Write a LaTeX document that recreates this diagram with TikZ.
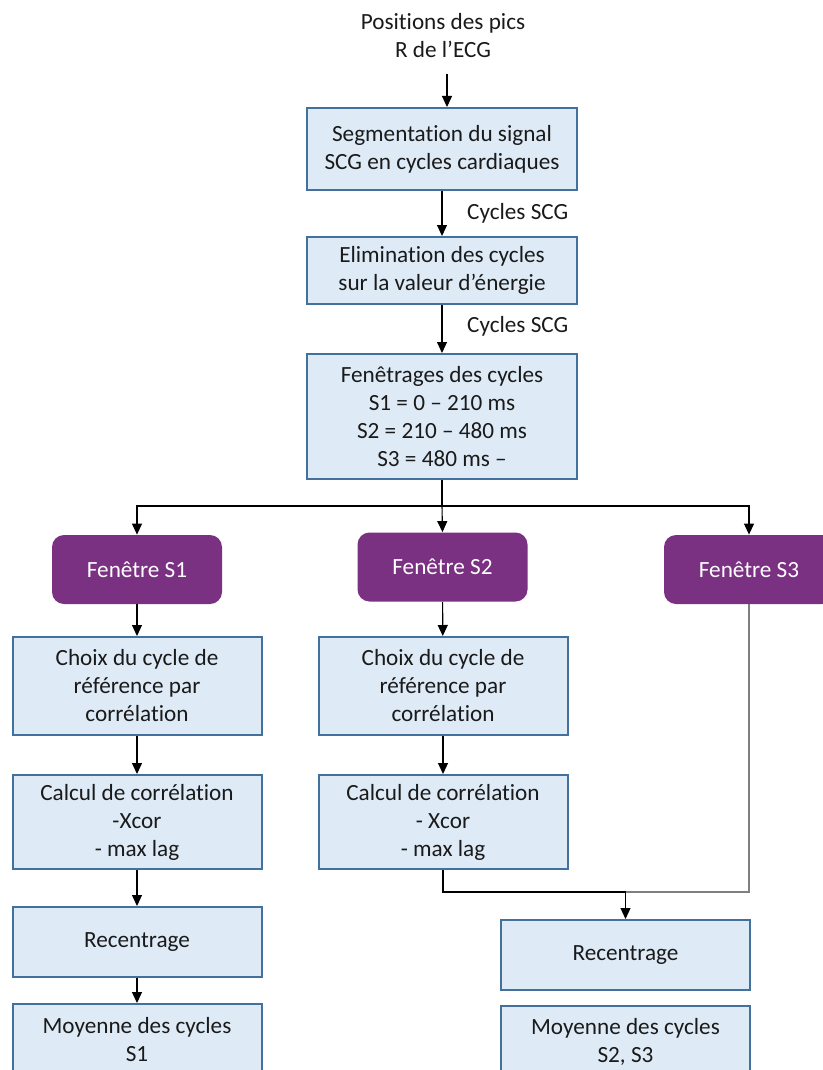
\documentclass[tikz,border=0pt]{standalone}
\usepackage{fontspec}
\setmainfont[Ligatures=NoCommon]{Carlito}
\usetikzlibrary{positioning,arrows.meta}
\definecolor{boxfill}{HTML}{DEEBF7}
\definecolor{boxline}{HTML}{41719C}
\definecolor{winfill}{HTML}{7B3182}
\definecolor{ink}{HTML}{1A1A1A}
\definecolor{greyline}{HTML}{7F7F7F}
\tikzset{
  box/.style={draw=boxline, fill=boxfill, line width=1pt, align=center, text=ink, font=\fontsize{11.6}{14}\selectfont, inner sep=2pt, minimum width=135pt},
  cbox/.style={box, minimum width=124.5pt},
  win/.style={fill=winfill, rounded corners=6pt, text=white, align=center, font=\fontsize{11.6}{14}\selectfont, minimum width=85pt, minimum height=34.5pt},
  lab/.style={font=\fontsize{11.6}{14}\selectfont, text=ink, align=center},
  flow/.style={-{Triangle[length=5.5pt,width=5pt]}, line width=0.55pt},
  bareline/.style={line width=0.55pt},
}

\begin{document}
\begin{tikzpicture}[x=0.5pt, y=-0.5pt]
    \useasboundingbox (0,0) rectangle (823,1070);
    % main column
    \node[lab, inner sep=1pt] (pics) at (443,36) {Positions des pics\\R de l'ECG};
    \node[box, minimum height=41pt] (seg) at (442,149) {Segmentation du signal\\SCG en cycles cardiaques};
    \node[box, minimum height=33.5pt, below=22.5pt of seg] (elim) {Elimination des cycles\\sur la valeur d'énergie};
    \node[box, minimum height=62.5pt, below=24pt of elim] (fen) {Fenêtrages des cycles\\S1 = 0 -- 210 ms\\S2 = 210 -- 480 ms\\S3 = 480 ms --};
    \path ([xshift=2.5pt]seg.north) ++(0,-33) coordinate (feed);
    \draw[flow] (feed) -- ([xshift=2.5pt]seg.north);
    \draw[flow] (seg) -- node[lab, right, xshift=9pt]{Cycles SCG} (elim);
    \draw[flow] (elim) -- node[lab, right, xshift=9pt, yshift=1.5pt]{Cycles SCG} (fen);
    % windows
    \node[win] (w1) at (137,569.5) {Fenêtre S1};
    \node[win] (w2) at (442.5,567) {Fenêtre S2};
    \node[win] (w3) at (749,569.5) {Fenêtre S3};
    \coordinate (split) at (442,506);
    \draw[bareline] (fen.south) -- (split);
    \draw[flow] (split) -| (w1.north);
    \draw[flow] (split) -- (w2.north);
    \draw[flow] (split) -| (w3.north);
    % S1 branch
    \node[cbox, minimum height=49pt] (choix1) at (137,686) {Choix du cycle de\\référence par\\corrélation};
    \node[cbox, minimum height=47pt, below=19pt of choix1] (calc1) {Calcul de corrélation\\-Xcor\\- max lag};
    \node[cbox, minimum height=35pt, below=18pt of calc1] (recent1) {Recentrage};
    \node[cbox, minimum height=35.5pt, below=12.5pt of recent1] (moy1) {Moyenne des cycles\\S1};
    \draw[flow] (w1) -- (choix1);
    \draw[flow] (choix1) -- (calc1);
    \draw[flow] (calc1) -- (recent1);
    \draw[flow] (recent1) -- (moy1);
    % S2 and S3 branch
    \node[cbox, minimum height=49pt] (choix2) at (443,686) {Choix du cycle de\\référence par\\corrélation};
    \node[cbox, minimum height=47pt, below=19pt of choix2] (calc2) {Calcul de corrélation\\- Xcor\\- max lag};
    \node[cbox, minimum height=35pt] (recent2) at (625.5,955) {Recentrage};
    \node[cbox, minimum height=35.5pt, below=7pt of recent2] (moy2) {Moyenne des cycles\\S2, S3};
    \draw[flow] (w2) -- (choix2);
    \draw[flow] (choix2) -- (calc2);
    \path (recent2.north) ++(0,-27) coordinate (merge);
    \draw[bareline] (calc2.south) |- (merge);
    \draw[bareline, draw=greyline] (w3.south) |- (merge);
    \draw[flow] (merge) -- (recent2);
\end{tikzpicture}
\end{document}
